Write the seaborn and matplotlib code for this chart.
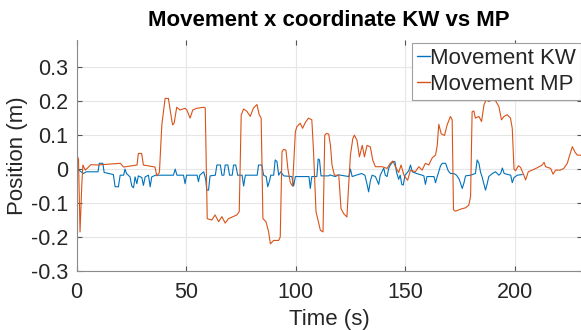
import matplotlib
matplotlib.use("Agg")
import matplotlib.pyplot as plt
import seaborn as sns
import pandas as pd

# Time stamps (s) and x-position (m) of the KW movement trace
kw_time = [0.5, 3.1, 4.5, 9.8, 10.4, 12.0, 12.6, 16.8, 17.6, 19.1, 19.9, 21.5, 22.1, 22.8,
           24.4, 25.2, 26.0, 26.7, 27.5, 28.2, 29.8, 30.5, 31.3, 32.8, 33.6, 34.3, 36.0,
           44.2, 45.0, 45.8, 48.8, 49.5, 50.2, 55.0, 55.6, 56.2, 58.0, 58.9, 59.4, 60.2,
           60.9, 63.3, 64.0, 65.6, 66.3, 67.2, 67.8, 69.0, 69.8, 71.0, 71.6, 72.6, 73.5,
           75.5, 76.2, 77.0, 82.4, 83.0, 84.5, 85.3, 86.5, 87.2, 88.0, 88.6, 89.9, 90.6,
           91.4, 92.2, 93.1, 94.5, 98.2, 99.0, 99.8, 106.0, 106.6, 107.3, 109.6, 110.2,
           110.8, 111.5, 115.0, 115.5, 118.0, 119.5, 124.2, 124.9, 125.7, 127.5, 130.0,
           131.5, 132.5, 133.2, 134.0, 134.8, 136.3, 137.8, 138.5, 140.1, 140.8, 141.6,
           142.4, 143.1, 144.3, 145.2, 145.9, 146.9, 147.6, 148.3, 149.0, 149.8, 151.5,
           152.3, 153.1, 155.0, 157.6, 158.4, 159.1, 159.8, 163.0, 163.7, 164.5, 166.0,
           166.8, 168.3, 169.5, 170.5, 172.0, 173.3, 174.5, 175.9, 176.7, 177.4, 179.7,
           181.9, 182.7, 183.5, 184.2, 184.9, 185.8, 186.5, 187.2, 188.0, 189.6, 191.1,
           192.6, 193.4, 194.2, 195.0, 198.0, 198.7, 199.5, 201.0, 203.3]
kw_pos = [0.0, -0.013, -0.008, -0.008, 0.017, 0.017, -0.01, -0.016, -0.052, -0.052, -0.018,
          -0.018, 0.0, -0.013, -0.023, -0.05, -0.055, -0.023, -0.043, -0.02, -0.025, -0.048,
          -0.023, -0.018, -0.052, -0.023, -0.018, -0.018, 0.0, -0.018, -0.018, -0.043, -0.018,
          -0.018, -0.037, -0.018, -0.008, -0.03, -0.062, -0.062, -0.02, -0.018, 0.012, 0.012,
          -0.018, -0.018, 0.012, 0.012, -0.018, -0.018, 0.012, 0.012, -0.018, -0.018, -0.05,
          -0.018, -0.018, 0.012, 0.012, -0.018, -0.022, -0.052, -0.035, -0.018, -0.018, 0.027,
          0.022, -0.018, -0.008, -0.02, -0.022, -0.05, -0.022, -0.022, -0.057, -0.022, -0.022,
          0.03, 0.027, -0.02, -0.02, -0.017, -0.022, -0.017, -0.022, 0.0, -0.022, -0.018,
          -0.013, -0.018, -0.045, -0.067, -0.035, -0.018, -0.022, -0.045, -0.018, 0.003,
          -0.018, -0.022, 0.003, 0.012, 0.022, 0.022, -0.008, -0.03, -0.018, -0.045, -0.047,
          -0.018, -0.005, 0.012, -0.008, -0.013, -0.018, -0.02, -0.045, -0.022, -0.022, -0.04,
          -0.022, 0.01, 0.017, 0.017, -0.005, -0.013, -0.013, -0.018, -0.03, -0.057, -0.04,
          -0.02, -0.018, -0.013, 0.027, 0.017, -0.008, -0.022, -0.045, -0.062, -0.045, -0.022,
          -0.013, -0.008, -0.018, -0.013, 0.003, -0.013, -0.018, -0.04, -0.025, -0.018, -0.016]

# Time stamps (s) and x-position (m) of the MP movement trace
mp_time = [0.0, 0.9, 1.6, 2.4, 2.9, 4.0, 5.5, 6.6, 9.4, 15.5, 20.0, 21.5, 27.6, 28.2, 29.7,
           30.5, 35.8, 36.6, 37.8, 38.9, 40.4, 41.9, 42.7, 43.8, 44.5, 45.7, 47.2, 49.5,
           50.3, 51.8, 53.0, 54.9, 57.9, 58.7, 59.6, 61.7, 63.2, 64.8, 66.3, 67.8, 69.3,
           73.1, 74.2, 75.1, 76.2, 77.7, 79.2, 80.7, 82.3, 83.3, 84.2, 85.0, 86.4, 87.6,
           88.4, 89.9, 92.2, 92.9, 93.7, 94.4, 95.5, 96.4, 97.5, 98.5, 99.8, 100.5, 102.0,
           103.1, 104.3, 105.8, 107.3, 108.1, 109.2, 111.2, 112.4, 113.2, 114.0, 115.0,
           115.8, 116.5, 117.6, 119.6, 120.6, 121.8, 123.3, 124.1, 124.9, 126.0, 126.7,
           127.9, 129.0, 130.3, 131.3, 132.5, 134.0, 135.1, 136.3, 139.4, 141.6, 143.1,
           144.3, 145.4, 146.9, 148.0, 149.3, 151.0, 152.3, 154.5, 156.1, 157.6, 159.1,
           160.6, 162.2, 163.7, 164.5, 165.2, 166.3, 167.8, 169.0, 170.5, 171.3, 171.9,
           172.8, 175.1, 177.4, 178.9, 179.7, 180.4, 181.2, 181.9, 183.5, 184.7, 185.8,
           186.8, 188.0, 189.6, 191.1, 192.6, 193.8, 194.9, 196.4, 197.9, 198.7, 199.5,
           200.2, 201.5, 202.5, 204.0, 204.8, 206.0, 207.8, 210.1, 212.4, 213.2, 213.9,
           216.2, 217.3, 218.5, 220.7, 222.2, 223.8, 224.9, 226.1, 227.3, 228.4, 231.0]
mp_pos = [0.041, 0.03, -0.185, -0.047, 0.012, -0.003, 0.006, 0.013, 0.012, 0.015, 0.017,
          0.006, 0.012, 0.046, 0.046, 0.012, 0.006, -0.02, -0.01, 0.13, 0.208, 0.208, 0.174,
          0.13, 0.135, 0.182, 0.174, 0.179, 0.174, 0.15, 0.174, 0.179, 0.182, 0.18, -0.146,
          -0.15, -0.135, -0.155, -0.14, -0.159, -0.146, -0.135, -0.125, 0.159, 0.177, 0.17,
          0.155, 0.18, 0.19, 0.16, 0.15, -0.146, -0.155, -0.185, -0.22, -0.21, -0.21, -0.2,
          0.051, 0.058, 0.056, 0.0, -0.04, -0.05, 0.11, 0.125, 0.135, 0.12, 0.137, 0.15,
          0.145, 0.05, -0.125, -0.18, -0.185, 0.1, 0.105, 0.103, 0.07, 0.012, -0.018, -0.018,
          -0.116, -0.131, -0.141, -0.047, 0.041, 0.09, 0.1, 0.085, 0.036, 0.07, 0.036, 0.07,
          0.065, 0.026, 0.007, 0.007, 0.002, 0.017, 0.024, 0.007, -0.01, 0.012, -0.018,
          -0.033, -0.003, -0.008, 0.007, -0.003, 0.017, 0.012, 0.033, 0.041, 0.07, 0.132,
          0.104, 0.099, 0.13, 0.155, 0.145, -0.12, -0.124, -0.118, -0.114, -0.106, -0.08,
          0.169, 0.171, 0.15, 0.155, 0.14, 0.189, 0.204, 0.199, 0.204, 0.201, 0.184, 0.145,
          0.155, 0.16, 0.15, 0.12, 0.0, -0.005, 0.01, 0.005, -0.018, -0.032, -0.008, -0.003,
          0.004, 0.012, 0.02, 0.007, 0.002, -0.015, -0.003, -0.003, 0.002, 0.017, 0.041,
          0.066, 0.05, 0.041, 0.041]

series_names = ["Movement KW", "Movement MP"]
x_ticks = [0, 50, 100, 150, 200]
y_ticks = [-0.3, -0.2, -0.1, 0.0, 0.1, 0.2, 0.3]
y_tick_labels = ["-0.3", "-0.2", "-0.1", "0", "0.1", "0.2", "0.3"]

sns.set_style("white")
plt.rcParams["font.family"] = ["Liberation Sans", "DejaVu Sans"]

kw_df = pd.DataFrame({"t": kw_time, "x": kw_pos})
mp_df = pd.DataFrame({"t": mp_time, "x": mp_pos})

fig = plt.figure(figsize=(5.81, 3.30), dpi=100)
ax = fig.add_axes([0.1317, 0.1788, 0.870, 0.700])

sns.lineplot(data=kw_df, x="t", y="x", ax=ax, color="#0072BD", lw=0.8,
             estimator=None, sort=False, label=series_names[0])
sns.lineplot(data=mp_df, x="t", y="x", ax=ax, color="#D95319", lw=0.8,
             estimator=None, sort=False, label=series_names[1])

ax.set_xlim(0, 230.5)
ax.set_ylim(-0.3, 0.38)
ax.set_xticks(x_ticks)
ax.set_yticks(y_ticks)
ax.set_yticklabels(y_tick_labels)

ax.grid(True, color="#e6e6e6", lw=0.8)
ax.set_axisbelow(True)
for side in ["left", "bottom", "top", "right"]:
    ax.spines[side].set_color("#8a8a8a")
    ax.spines[side].set_linewidth(0.8)
ax.spines["top"].set_visible(False)

ax.tick_params(axis="both", which="both", direction="in", length=3.5, width=0.8,
               color="#555555", labelsize=15.5, labelcolor="#262626",
               top=True, right=True, bottom=True, left=True)
ax.tick_params(axis="x", pad=8)
ax.tick_params(axis="y", pad=6)

ax.set_xlabel("Time (s)", fontsize=16, color="#262626", labelpad=4)
ax.set_ylabel("Position (m)", fontsize=16, color="#262626", labelpad=2)
ax.set_title("Movement x coordinate KW vs MP", fontsize=16, fontweight="bold",
             color="black", pad=10)

leg = ax.legend(loc="upper left", bbox_to_anchor=(0.6637, 0.987), fontsize=16,
                handlelength=0.6, handletextpad=0.0, borderpad=0.22, labelspacing=0.22,
                borderaxespad=0.0, frameon=True, fancybox=False, framealpha=1.0)
leg.get_frame().set_edgecolor("#a0a0a0")
leg.get_frame().set_linewidth(0.8)
for line in leg.get_lines():
    line.set_linewidth(1.0)

fig.savefig("out.png", dpi=100)
